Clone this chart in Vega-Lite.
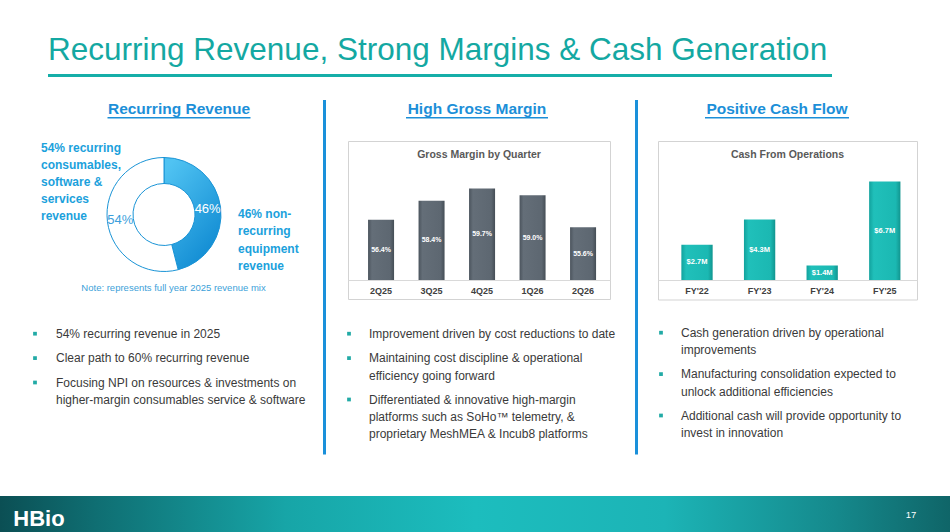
{
"$schema":"https://vega.github.io/schema/vega-lite/v6.json",
"background":"white",
"padding":0,
"config":{"view":{"stroke":null},"font":"Liberation Sans","concat":{"spacing":0},"title":{"font":"Liberation Sans"},"axis":{"labelFont":"Liberation Sans"}},
"datasets":{
"bullets":[
{"col":1,"bullet":1,"line":1,"text":"54% recurring revenue in 2025"},
{"col":1,"bullet":2,"line":1,"text":"Clear path to 60% recurring revenue"},
{"col":1,"bullet":3,"line":1,"text":"Focusing NPI on resources & investments on"},
{"col":1,"bullet":3,"line":2,"text":"higher-margin consumables service & software"},
{"col":2,"bullet":1,"line":1,"text":"Improvement driven by cost reductions to date"},
{"col":2,"bullet":2,"line":1,"text":"Maintaining cost discipline & operational"},
{"col":2,"bullet":2,"line":2,"text":"efficiency going forward"},
{"col":2,"bullet":3,"line":1,"text":"Differentiated & innovative high-margin"},
{"col":2,"bullet":3,"line":2,"text":"platforms such as SoHo™ telemetry, &"},
{"col":2,"bullet":3,"line":3,"text":"proprietary MeshMEA & Incub8 platforms"},
{"col":3,"bullet":1,"line":1,"text":"Cash generation driven by operational"},
{"col":3,"bullet":1,"line":2,"text":"improvements"},
{"col":3,"bullet":2,"line":1,"text":"Manufacturing consolidation expected to"},
{"col":3,"bullet":2,"line":2,"text":"unlock additional efficiencies"},
{"col":3,"bullet":3,"line":1,"text":"Additional cash will provide opportunity to"},
{"col":3,"bullet":3,"line":2,"text":"invest in innovation"}
],
"gm":[{"quarter":"2Q25","margin":0.564},{"quarter":"3Q25","margin":0.584},{"quarter":"4Q25","margin":0.597},{"quarter":"1Q26","margin":0.590},{"quarter":"2Q26","margin":0.556}],
"cash":[{"year":"FY'22","cash":2700000},{"year":"FY'23","cash":4300000},{"year":"FY'24","cash":1400000},{"year":"FY'25","cash":6700000}],
"mix":[{"segment":"Non-recurring equipment","share":0.46},{"segment":"Recurring consumables, software & services","share":0.54}],
"leftText":[{"line":1,"text":"54% recurring"},{"line":2,"text":"consumables,"},{"line":3,"text":"software &"},{"line":4,"text":"services"},{"line":5,"text":"revenue"}],
"rightText":[{"line":1,"text":"46% non-"},{"line":2,"text":"recurring"},{"line":3,"text":"equipment"},{"line":4,"text":"revenue"}]
},
"spacing":0,
"vconcat":[
{"spacing":0,"hconcat":[
 {"width":48,"height":99,"data":{"values":[]},"mark":"point"},
 {"bounds":"flush","spacing":0,"vconcat":[
  {"width":784,"height":73.5,"data":{"values":[{"title":"Recurring Revenue, Strong Margins & Cash Generation"}]},"mark":{"type":"text","align":"left","baseline":"alphabetic","fontSize":31.5,"color":"#14a8a2","dy":23.25},"encoding":{"x":{"datum":0,"type":"quantitative","scale":{"domain":[0,1]},"axis":null},"text":{"field":"title"}}},
  {"width":784,"height":3,"view":{"fill":"#15aea8"},"data":{"values":[]},"mark":"point"},
  {"width":784,"height":22.5,"data":{"values":[]},"mark":"point"}
 ]},
 {"width":118,"height":99,"data":{"values":[]},"mark":"point"}
]},
{"spacing":0,"hconcat":[
 {"spacing":0,"vconcat":[
  {"spacing":0,"hconcat":[
   {"width":93.5,"height":18.5,"data":{"values":[]},"mark":"point"},
   {"bounds":"flush","spacing":0,"center":true,"vconcat":[
    {"width":170,"height":17,"data":{"values":[{"heading":"Recurring Revenue"}]},"mark":{"type":"text","baseline":"bottom","fontSize":15.5,"fontWeight":"bold","color":"#1c8fd8"},"encoding":{"y":{"datum":0,"type":"quantitative","scale":{"domain":[0,1]},"axis":null},"text":{"field":"heading"}}},
    {"width":143,"height":1.5,"view":{"fill":"#1c8fd8"},"data":{"values":[]},"mark":"point"}
   ]},
   {"width":57.5,"height":18.5,"data":{"values":[]},"mark":"point"}
  ]},
  {"width":321,"height":20,"data":{"values":[]},"mark":"point"},
  {"spacing":0,"hconcat":[
   {"bounds":"flush","spacing":0,"hconcat":[
    {"width":41,"height":142.5,"data":{"values":[]},"mark":"point"},
    {"width":66,"height":{"step":17},"data":{"name":"leftText"},"mark":{"type":"text","align":"left","baseline":"middle","fontSize":12,"fontWeight":"bold","color":"#1ba1dc"},"encoding":{"y":{"field":"line","type":"ordinal","axis":null},"x":{"datum":0,"type":"quantitative","scale":{"domain":[0,1]},"axis":null},"text":{"field":"text"}}},
    {"width":114,"height":142.5,"data":{"name":"mix"},
     "encoding":{"theta":{"field":"share","type":"quantitative","stack":true},"y":{"datum":"donut","type":"nominal","scale":{"type":"point","padding":0,"align":0.5298},"axis":null}},
     "layer":[
      {"mark":{"type":"arc","outerRadius":57,"innerRadius":31,"stroke":"#1a94d6","strokeWidth":1},
       "encoding":{"color":{"condition":{"test":"datum.segment === 'Non-recurring equipment'","value":{"gradient":"linear","x1":0.2,"y1":0,"x2":0.8,"y2":1,"stops":[{"offset":0,"color":"#50c3f2"},{"offset":1,"color":"#0c87d0"}]}},"value":"#ffffff"}}},
      {"mark":{"type":"text","radius":44,"fontSize":13},
       "encoding":{"text":{"field":"share","format":".0%"},"color":{"condition":{"test":"datum.segment === 'Non-recurring equipment'","value":"#ffffff"},"value":"#3c9fdc"}}}
     ]}
   ]},
   {"width":15,"height":142.5,"data":{"values":[]},"mark":"point"},
   {"bounds":"flush","spacing":0,"vconcat":[
    {"width":85,"height":65.75,"data":{"values":[]},"mark":"point"},
    {"width":85,"height":{"step":17.5},"data":{"name":"rightText"},"mark":{"type":"text","align":"left","baseline":"middle","fontSize":12,"fontWeight":"bold","color":"#1ba1dc"},"encoding":{"y":{"field":"line","type":"ordinal","axis":null},"x":{"datum":0,"type":"quantitative","scale":{"domain":[0,1]},"axis":null},"text":{"field":"text"}}}
   ]}
  ]},
  {"bounds":"flush","spacing":0,"hconcat":[
   {"width":26,"height":12,"data":{"values":[]},"mark":"point"},
   {"width":295,"height":12,"data":{"values":[{"note":"Note: represents full year 2025 revenue mix"}]},"mark":{"type":"text","fontSize":9.5,"color":"#3d9fd9"},"encoding":{"text":{"field":"note"}}}
  ]},
  {"width":321,"height":30.3,"data":{"values":[]},"mark":"point"},
  {"spacing":6.4,"vconcat":[
   {"bounds":"flush","spacing":0,"hconcat":[
    {"width":31,"height":17.4,"data":{"values":[]},"mark":"point"},
    {"width":8,"height":{"step":17.4},"data":{"name":"bullets"},"transform":[{"filter":"datum.col == 1 && datum.bullet == 1 && datum.line == 1"}],"mark":{"type":"square","size":14,"color":"#22aaa6","opacity":1},"encoding":{"y":{"field":"line","type":"ordinal","axis":null}}},
    {"width":17,"height":17.4,"data":{"values":[]},"mark":"point"},
    {"width":265,"height":{"step":17.4},"data":{"name":"bullets"},"transform":[{"filter":"datum.col == 1 && datum.bullet == 1"}],"mark":{"type":"text","align":"left","baseline":"middle","fontSize":12,"color":"#3a3a3a"},"encoding":{"y":{"field":"line","type":"ordinal","axis":null},"x":{"datum":0,"type":"quantitative","scale":{"domain":[0,1]},"axis":null},"text":{"field":"text"}}}
   ]},
   {"bounds":"flush","spacing":0,"hconcat":[
    {"width":31,"height":17.4,"data":{"values":[]},"mark":"point"},
    {"width":8,"height":{"step":17.4},"data":{"name":"bullets"},"transform":[{"filter":"datum.col == 1 && datum.bullet == 2 && datum.line == 1"}],"mark":{"type":"square","size":14,"color":"#22aaa6","opacity":1},"encoding":{"y":{"field":"line","type":"ordinal","axis":null}}},
    {"width":17,"height":17.4,"data":{"values":[]},"mark":"point"},
    {"width":265,"height":{"step":17.4},"data":{"name":"bullets"},"transform":[{"filter":"datum.col == 1 && datum.bullet == 2"}],"mark":{"type":"text","align":"left","baseline":"middle","fontSize":12,"color":"#3a3a3a"},"encoding":{"y":{"field":"line","type":"ordinal","axis":null},"x":{"datum":0,"type":"quantitative","scale":{"domain":[0,1]},"axis":null},"text":{"field":"text"}}}
   ]},
   {"bounds":"flush","spacing":0,"hconcat":[
    {"width":31,"height":17.4,"data":{"values":[]},"mark":"point"},
    {"width":8,"height":{"step":17.4},"data":{"name":"bullets"},"transform":[{"filter":"datum.col == 1 && datum.bullet == 3 && datum.line == 1"}],"mark":{"type":"square","size":14,"color":"#22aaa6","opacity":1},"encoding":{"y":{"field":"line","type":"ordinal","axis":null}}},
    {"width":17,"height":17.4,"data":{"values":[]},"mark":"point"},
    {"width":265,"height":{"step":17.4},"data":{"name":"bullets"},"transform":[{"filter":"datum.col == 1 && datum.bullet == 3"}],"mark":{"type":"text","align":"left","baseline":"middle","fontSize":12,"color":"#3a3a3a"},"encoding":{"y":{"field":"line","type":"ordinal","axis":null},"x":{"datum":0,"type":"quantitative","scale":{"domain":[0,1]},"axis":null},"text":{"field":"text"}}}
   ]}
  ]}
 ]},
 {"width":3,"height":354.5,"view":{"fill":"#1a90da"},"data":{"values":[]},"mark":"point"},
 {"spacing":0,"vconcat":[
  {"spacing":0,"hconcat":[
   {"width":66,"height":18.5,"data":{"values":[]},"mark":"point"},
   {"bounds":"flush","spacing":0,"center":true,"vconcat":[
    {"width":170,"height":17,"data":{"values":[{"heading":"High Gross Margin"}]},"mark":{"type":"text","baseline":"bottom","fontSize":15.5,"fontWeight":"bold","color":"#1c8fd8"},"encoding":{"y":{"datum":0,"type":"quantitative","scale":{"domain":[0,1]},"axis":null},"text":{"field":"heading"}}},
    {"width":142,"height":1.5,"view":{"fill":"#1c8fd8"},"data":{"values":[]},"mark":"point"}
   ]},
   {"width":73,"height":18.5,"data":{"values":[]},"mark":"point"}
  ]},
  {"width":309,"height":20.5,"data":{"values":[]},"mark":"point"},
  {"bounds":"flush","spacing":0,"hconcat":[
   {"width":22,"height":158,"data":{"values":[]},"mark":"point"},
   {"width":262,"height":158,"view":{"stroke":"#d3d3d3","strokeWidth":1},
    "title":{"text":"Gross Margin by Quarter","fontSize":10.5,"fontWeight":"bold","color":"#595959","offset":-19,"anchor":"middle"},
    "data":{"name":"gm"},
    "encoding":{"x":{"field":"quarter","type":"ordinal","sort":null,"scale":{"paddingInner":0.485,"paddingOuter":0.3365,"align":0.59},"axis":{"title":null,"offset":-19,"domainColor":"#d9d9d9","ticks":false,"labelAngle":0,"labelFontWeight":"bold","labelFontSize":9,"labelColor":"#404040","labelPadding":6.5}}},
    "layer":[
     {"mark":{"type":"bar","color":{"gradient":"linear","x1":0,"y1":0,"x2":1,"y2":0,"stops":[{"offset":0,"color":"#4b545d"},{"offset":0.15,"color":"#646e78"},{"offset":0.85,"color":"#5d6771"},{"offset":1,"color":"#454e56"}]}},
      "encoding":{"y":{"field":"margin","type":"quantitative","scale":{"domain":[0.48,0.6474],"zero":false,"nice":false},"axis":null},"y2":{"datum":0.5}}},
     {"mark":{"type":"text","color":"white","fontSize":7,"fontWeight":"bold"},
      "encoding":{"y":{"field":"margin","type":"quantitative","scale":{"domain":[0.46,0.7948],"zero":false,"nice":false},"axis":null},"text":{"field":"margin","format":".1%"}}}
    ],
    "resolve":{"scale":{"y":"independent"}}},
   {"width":25,"height":158,"data":{"values":[]},"mark":"point"}
  ]},
  {"width":309,"height":24.3,"data":{"values":[]},"mark":"point"},
  {"spacing":6.4,"vconcat":[
   {"bounds":"flush","spacing":0,"hconcat":[
    {"width":19,"height":17.4,"data":{"values":[]},"mark":"point"},
    {"width":8,"height":{"step":17.4},"data":{"name":"bullets"},"transform":[{"filter":"datum.col == 2 && datum.bullet == 1 && datum.line == 1"}],"mark":{"type":"square","size":14,"color":"#22aaa6","opacity":1},"encoding":{"y":{"field":"line","type":"ordinal","axis":null}}},
    {"width":16,"height":17.4,"data":{"values":[]},"mark":"point"},
    {"width":266,"height":{"step":17.4},"data":{"name":"bullets"},"transform":[{"filter":"datum.col == 2 && datum.bullet == 1"}],"mark":{"type":"text","align":"left","baseline":"middle","fontSize":12,"color":"#3a3a3a"},"encoding":{"y":{"field":"line","type":"ordinal","axis":null},"x":{"datum":0,"type":"quantitative","scale":{"domain":[0,1]},"axis":null},"text":{"field":"text"}}}
   ]},
   {"bounds":"flush","spacing":0,"hconcat":[
    {"width":19,"height":17.4,"data":{"values":[]},"mark":"point"},
    {"width":8,"height":{"step":17.4},"data":{"name":"bullets"},"transform":[{"filter":"datum.col == 2 && datum.bullet == 2 && datum.line == 1"}],"mark":{"type":"square","size":14,"color":"#22aaa6","opacity":1},"encoding":{"y":{"field":"line","type":"ordinal","axis":null}}},
    {"width":16,"height":17.4,"data":{"values":[]},"mark":"point"},
    {"width":266,"height":{"step":17.4},"data":{"name":"bullets"},"transform":[{"filter":"datum.col == 2 && datum.bullet == 2"}],"mark":{"type":"text","align":"left","baseline":"middle","fontSize":12,"color":"#3a3a3a"},"encoding":{"y":{"field":"line","type":"ordinal","axis":null},"x":{"datum":0,"type":"quantitative","scale":{"domain":[0,1]},"axis":null},"text":{"field":"text"}}}
   ]},
   {"bounds":"flush","spacing":0,"hconcat":[
    {"width":19,"height":17.4,"data":{"values":[]},"mark":"point"},
    {"width":8,"height":{"step":17.4},"data":{"name":"bullets"},"transform":[{"filter":"datum.col == 2 && datum.bullet == 3 && datum.line == 1"}],"mark":{"type":"square","size":14,"color":"#22aaa6","opacity":1},"encoding":{"y":{"field":"line","type":"ordinal","axis":null}}},
    {"width":16,"height":17.4,"data":{"values":[]},"mark":"point"},
    {"width":266,"height":{"step":17.4},"data":{"name":"bullets"},"transform":[{"filter":"datum.col == 2 && datum.bullet == 3"}],"mark":{"type":"text","align":"left","baseline":"middle","fontSize":12,"color":"#3a3a3a"},"encoding":{"y":{"field":"line","type":"ordinal","axis":null},"x":{"datum":0,"type":"quantitative","scale":{"domain":[0,1]},"axis":null},"text":{"field":"text"}}}
   ]}
  ]}
 ]},
 {"width":3,"height":354.5,"view":{"fill":"#1a90da"},"data":{"values":[]},"mark":"point"},
 {"spacing":0,"vconcat":[
  {"spacing":0,"hconcat":[
   {"width":54,"height":18.5,"data":{"values":[]},"mark":"point"},
   {"bounds":"flush","spacing":0,"center":true,"vconcat":[
    {"width":170,"height":17,"data":{"values":[{"heading":"Positive Cash Flow"}]},"mark":{"type":"text","baseline":"bottom","fontSize":15.5,"fontWeight":"bold","color":"#1c8fd8"},"encoding":{"y":{"datum":0,"type":"quantitative","scale":{"domain":[0,1]},"axis":null},"text":{"field":"heading"}}},
    {"width":144,"height":1.5,"view":{"fill":"#1c8fd8"},"data":{"values":[]},"mark":"point"}
   ]},
   {"width":90,"height":18.5,"data":{"values":[]},"mark":"point"}
  ]},
  {"width":314,"height":20.5,"data":{"values":[]},"mark":"point"},
  {"bounds":"flush","spacing":0,"hconcat":[
   {"width":20,"height":158.5,"data":{"values":[]},"mark":"point"},
   {"width":259,"height":158.5,"view":{"stroke":"#d3d3d3","strokeWidth":1},
    "title":{"text":"Cash From Operations","fontSize":10.5,"fontWeight":"bold","color":"#595959","offset":-19,"anchor":"middle"},
    "data":{"name":"cash"},
    "encoding":{"x":{"field":"year","type":"ordinal","sort":null,"scale":{"paddingInner":0.5,"paddingOuter":0.319,"align":0.585},"axis":{"title":null,"offset":-19.5,"domainColor":"#d9d9d9","ticks":false,"labelAngle":0,"labelFontWeight":"bold","labelFontSize":9,"labelColor":"#404040","labelPadding":6.5}}},
    "layer":[
     {"mark":{"type":"bar","color":{"gradient":"linear","x1":0,"y1":0,"x2":1,"y2":0,"stops":[{"offset":0,"color":"#12a29d"},{"offset":0.15,"color":"#20c0ba"},{"offset":0.85,"color":"#1bb8b2"},{"offset":1,"color":"#11958f"}]}},
      "encoding":{"y":{"field":"cash","type":"quantitative","scale":{"domain":[-750000,9250000],"zero":false,"nice":false},"axis":null},"y2":{"datum":480000}}},
     {"mark":{"type":"text","color":"white","fontSize":7.5,"fontWeight":"bold"},
      "encoding":{"y":{"field":"cash","type":"quantitative","scale":{"domain":[-1980000,18020000],"zero":false,"nice":false},"axis":null},"text":{"field":"cash","format":"$.2s"}}}
    ],
    "resolve":{"scale":{"y":"independent"}}},
   {"width":35,"height":158.5,"data":{"values":[]},"mark":"point"}
  ]},
  {"width":314,"height":23.8,"data":{"values":[]},"mark":"point"},
  {"spacing":6.4,"vconcat":[
   {"bounds":"flush","spacing":0,"hconcat":[
    {"width":19,"height":17.4,"data":{"values":[]},"mark":"point"},
    {"width":8,"height":{"step":17.4},"data":{"name":"bullets"},"transform":[{"filter":"datum.col == 3 && datum.bullet == 1 && datum.line == 1"}],"mark":{"type":"square","size":14,"color":"#22aaa6","opacity":1},"encoding":{"y":{"field":"line","type":"ordinal","axis":null}}},
    {"width":16,"height":17.4,"data":{"values":[]},"mark":"point"},
    {"width":271,"height":{"step":17.4},"data":{"name":"bullets"},"transform":[{"filter":"datum.col == 3 && datum.bullet == 1"}],"mark":{"type":"text","align":"left","baseline":"middle","fontSize":12,"color":"#3a3a3a"},"encoding":{"y":{"field":"line","type":"ordinal","axis":null},"x":{"datum":0,"type":"quantitative","scale":{"domain":[0,1]},"axis":null},"text":{"field":"text"}}}
   ]},
   {"bounds":"flush","spacing":0,"hconcat":[
    {"width":19,"height":17.4,"data":{"values":[]},"mark":"point"},
    {"width":8,"height":{"step":17.4},"data":{"name":"bullets"},"transform":[{"filter":"datum.col == 3 && datum.bullet == 2 && datum.line == 1"}],"mark":{"type":"square","size":14,"color":"#22aaa6","opacity":1},"encoding":{"y":{"field":"line","type":"ordinal","axis":null}}},
    {"width":16,"height":17.4,"data":{"values":[]},"mark":"point"},
    {"width":271,"height":{"step":17.4},"data":{"name":"bullets"},"transform":[{"filter":"datum.col == 3 && datum.bullet == 2"}],"mark":{"type":"text","align":"left","baseline":"middle","fontSize":12,"color":"#3a3a3a"},"encoding":{"y":{"field":"line","type":"ordinal","axis":null},"x":{"datum":0,"type":"quantitative","scale":{"domain":[0,1]},"axis":null},"text":{"field":"text"}}}
   ]},
   {"bounds":"flush","spacing":0,"hconcat":[
    {"width":19,"height":17.4,"data":{"values":[]},"mark":"point"},
    {"width":8,"height":{"step":17.4},"data":{"name":"bullets"},"transform":[{"filter":"datum.col == 3 && datum.bullet == 3 && datum.line == 1"}],"mark":{"type":"square","size":14,"color":"#22aaa6","opacity":1},"encoding":{"y":{"field":"line","type":"ordinal","axis":null}}},
    {"width":16,"height":17.4,"data":{"values":[]},"mark":"point"},
    {"width":271,"height":{"step":17.4},"data":{"name":"bullets"},"transform":[{"filter":"datum.col == 3 && datum.bullet == 3"}],"mark":{"type":"text","align":"left","baseline":"middle","fontSize":12,"color":"#3a3a3a"},"encoding":{"y":{"field":"line","type":"ordinal","axis":null},"x":{"datum":0,"type":"quantitative","scale":{"domain":[0,1]},"axis":null},"text":{"field":"text"}}}
   ]}
  ]}
 ]}
]},
{"width":950,"height":40.5,"data":{"values":[]},"mark":"point"},
{"width":950,"height":38,"data":{"values":[{"logo":"HBio","page":"17"}]},
 "layer":[
  {"mark":{"type":"rect","color":{"gradient":"linear","x1":0,"y1":0,"x2":1,"y2":0,"stops":[{"offset":0,"color":"#0b4f54"},{"offset":0.1,"color":"#0f6e72"},{"offset":0.3,"color":"#17a5a7"},{"offset":0.5,"color":"#1cbdbe"},{"offset":0.7,"color":"#1cb4b6"},{"offset":0.88,"color":"#15898c"},{"offset":1,"color":"#0f6568"}]}},"encoding":{}},
  {"mark":{"type":"text","fontSize":22,"fontWeight":"bold","color":"white","dy":3.5},"encoding":{"x":{"datum":"logo","type":"nominal","scale":{"type":"point","padding":0.0447,"domain":["logo","page"]},"axis":null},"text":{"field":"logo"}}},
  {"mark":{"type":"text","fontSize":9.5,"color":"white"},"encoding":{"x":{"datum":"page","type":"nominal","axis":null},"text":{"field":"page"}}}
 ]}
]
}
